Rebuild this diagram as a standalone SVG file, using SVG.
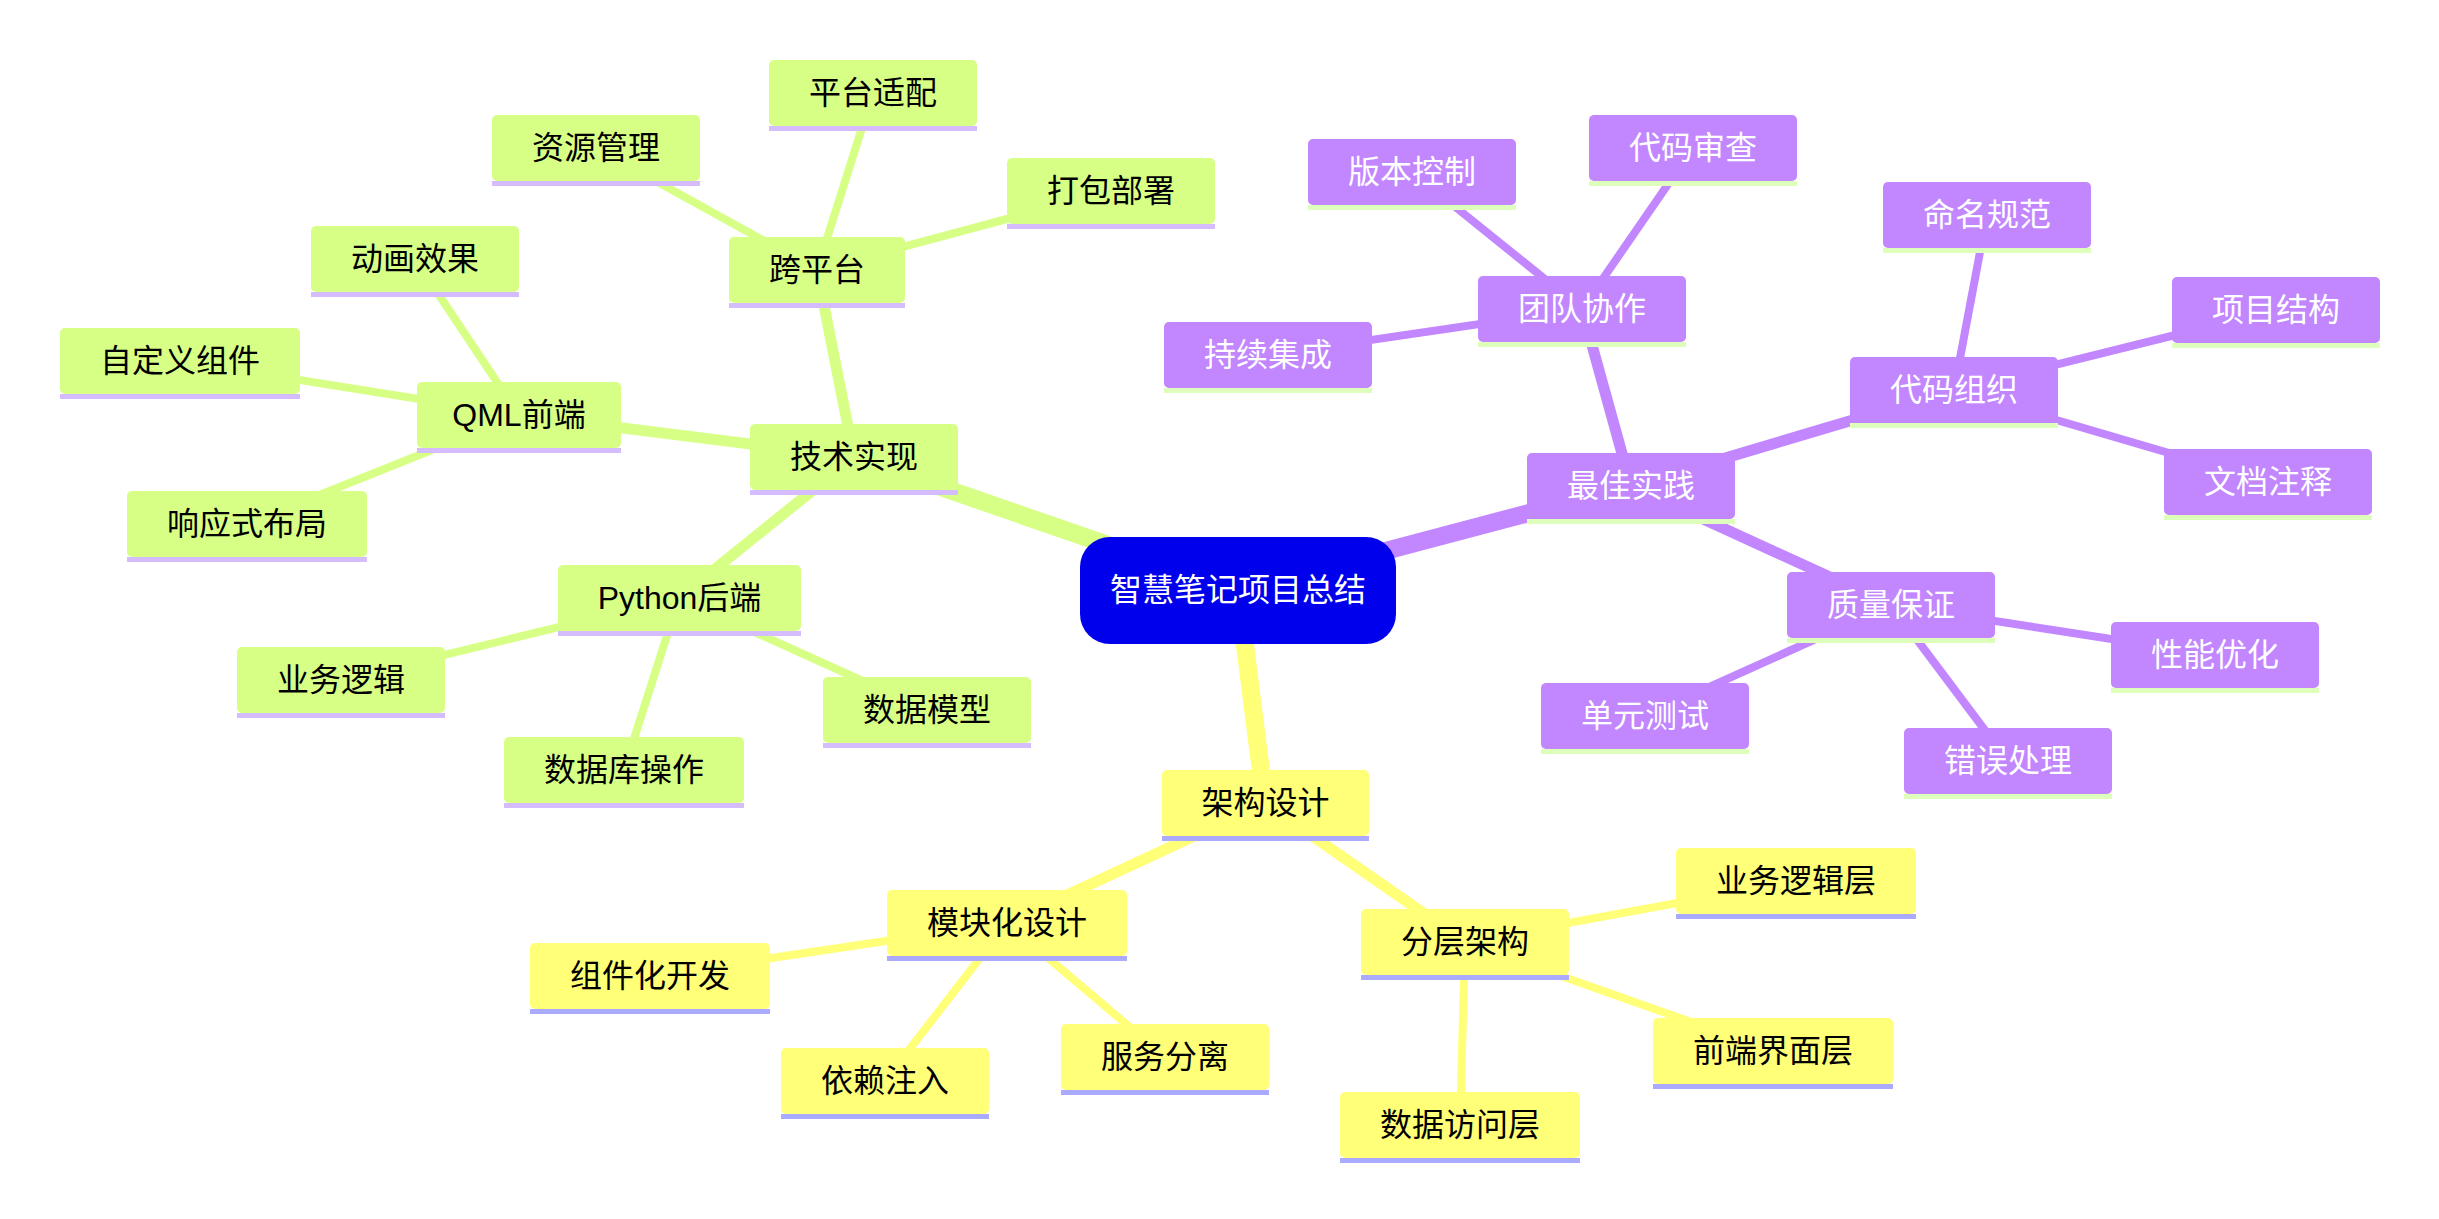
<svg xmlns="http://www.w3.org/2000/svg" width="2439" height="1219" viewBox="0 0 2439 1219">
<style>
text{font-family:"Liberation Sans","Noto Sans CJK SC",sans-serif;font-size:32px;text-anchor:middle}
.g rect.f{fill:#d7ff86}.g rect.u{fill:#d4bcff}.g text{fill:#000}
.p rect.f{fill:#c286ff}.p rect.u{fill:#ddffbb}.p text{fill:#fff}
.y rect.f{fill:#ffff78}.y rect.u{fill:#aaaaff}.y text{fill:#000}
.eg{stroke:#d7ff86}.ep{stroke:#c286ff}.ey{stroke:#ffff78}
.d0{stroke-width:18}.d1{stroke-width:11}.d2{stroke-width:8}
</style>
<rect width="2439" height="1219" fill="#fff"/>
<g id="connectors" fill="none">
<line class="eg d0" x1="1238" y1="590" x2="854" y2="457"/>
<line class="eg d1" x1="854" y1="457" x2="817" y2="270"/>
<line class="eg d1" x1="854" y1="457" x2="519" y2="415"/>
<line class="eg d1" x1="854" y1="457" x2="679" y2="598"/>
<line class="eg d2" x1="817" y1="270" x2="873" y2="93"/>
<line class="eg d2" x1="817" y1="270" x2="596" y2="148"/>
<line class="eg d2" x1="817" y1="270" x2="1111" y2="191"/>
<line class="eg d2" x1="519" y1="415" x2="415" y2="259"/>
<line class="eg d2" x1="519" y1="415" x2="180" y2="361"/>
<line class="eg d2" x1="519" y1="415" x2="247" y2="524"/>
<line class="eg d2" x1="679" y1="598" x2="341" y2="680"/>
<line class="eg d2" x1="679" y1="598" x2="624" y2="770"/>
<line class="eg d2" x1="679" y1="598" x2="927" y2="710"/>
<line class="ep d0" x1="1238" y1="590" x2="1631" y2="486"/>
<line class="ep d1" x1="1631" y1="486" x2="1582" y2="309"/>
<line class="ep d1" x1="1631" y1="486" x2="1954" y2="390"/>
<line class="ep d1" x1="1631" y1="486" x2="1891" y2="605"/>
<line class="ep d2" x1="1582" y1="309" x2="1412" y2="172"/>
<line class="ep d2" x1="1582" y1="309" x2="1693" y2="148"/>
<line class="ep d2" x1="1582" y1="309" x2="1268" y2="355"/>
<line class="ep d2" x1="1954" y1="390" x2="1987" y2="215"/>
<line class="ep d2" x1="1954" y1="390" x2="2276" y2="310"/>
<line class="ep d2" x1="1954" y1="390" x2="2268" y2="482"/>
<line class="ep d2" x1="1891" y1="605" x2="2215" y2="655"/>
<line class="ep d2" x1="1891" y1="605" x2="1645" y2="716"/>
<line class="ep d2" x1="1891" y1="605" x2="2008" y2="761"/>
<line class="ey d0" x1="1238" y1="590" x2="1265" y2="803"/>
<line class="ey d1" x1="1265" y1="803" x2="1007" y2="923"/>
<line class="ey d1" x1="1265" y1="803" x2="1465" y2="942"/>
<line class="ey d2" x1="1007" y1="923" x2="650" y2="976"/>
<line class="ey d2" x1="1007" y1="923" x2="885" y2="1081"/>
<line class="ey d2" x1="1007" y1="923" x2="1165" y2="1057"/>
<line class="ey d2" x1="1465" y1="942" x2="1796" y2="881"/>
<line class="ey d2" x1="1465" y1="942" x2="1773" y2="1051"/>
<line class="ey d2" x1="1465" y1="942" x2="1460" y2="1125"/>
</g>
<g id="root"><rect x="1080" y="537" width="316" height="107" rx="30" fill="#0000ec"/><text x="1238" y="601" fill="#fff">智慧笔记项目总结</text></g>
<g id="n-jishu" class="g"><rect class="f" x="750" y="424" width="208" height="66" rx="5"/><rect class="u" x="750" y="490" width="208" height="5"/><text x="854" y="468">技术实现</text></g>
<g id="n-kuapingtai" class="g"><rect class="f" x="729" y="237" width="176" height="66" rx="5"/><rect class="u" x="729" y="303" width="176" height="5"/><text x="817" y="281">跨平台</text></g>
<g id="n-qml" class="g"><rect class="f" x="417" y="382" width="204" height="66" rx="5"/><rect class="u" x="417" y="448" width="204" height="5"/><text x="519" y="426">QML前端</text></g>
<g id="n-python" class="g"><rect class="f" x="558" y="565" width="243" height="66" rx="5"/><rect class="u" x="558" y="631" width="243" height="5"/><text x="679.5" y="609">Python后端</text></g>
<g id="n-pingtai" class="g"><rect class="f" x="769" y="60" width="208" height="66" rx="5"/><rect class="u" x="769" y="126" width="208" height="5"/><text x="873" y="104">平台适配</text></g>
<g id="n-ziyuan" class="g"><rect class="f" x="492" y="115" width="208" height="66" rx="5"/><rect class="u" x="492" y="181" width="208" height="5"/><text x="596" y="159">资源管理</text></g>
<g id="n-dabao" class="g"><rect class="f" x="1007" y="158" width="208" height="66" rx="5"/><rect class="u" x="1007" y="224" width="208" height="5"/><text x="1111" y="202">打包部署</text></g>
<g id="n-donghua" class="g"><rect class="f" x="311" y="226" width="208" height="66" rx="5"/><rect class="u" x="311" y="292" width="208" height="5"/><text x="415" y="270">动画效果</text></g>
<g id="n-zidingyi" class="g"><rect class="f" x="60" y="328" width="240" height="66" rx="5"/><rect class="u" x="60" y="394" width="240" height="5"/><text x="180" y="372">自定义组件</text></g>
<g id="n-xiangying" class="g"><rect class="f" x="127" y="491" width="240" height="66" rx="5"/><rect class="u" x="127" y="557" width="240" height="5"/><text x="247" y="535">响应式布局</text></g>
<g id="n-yewu" class="g"><rect class="f" x="237" y="647" width="208" height="66" rx="5"/><rect class="u" x="237" y="713" width="208" height="5"/><text x="341" y="691">业务逻辑</text></g>
<g id="n-shujuku" class="g"><rect class="f" x="504" y="737" width="240" height="66" rx="5"/><rect class="u" x="504" y="803" width="240" height="5"/><text x="624" y="781">数据库操作</text></g>
<g id="n-shujumoxing" class="g"><rect class="f" x="823" y="677" width="208" height="66" rx="5"/><rect class="u" x="823" y="743" width="208" height="5"/><text x="927" y="721">数据模型</text></g>
<g id="n-zuijia" class="p"><rect class="f" x="1527" y="453" width="208" height="66" rx="5"/><rect class="u" x="1527" y="519" width="208" height="5"/><text x="1631" y="497">最佳实践</text></g>
<g id="n-tuandui" class="p"><rect class="f" x="1478" y="276" width="208" height="66" rx="5"/><rect class="u" x="1478" y="342" width="208" height="5"/><text x="1582" y="320">团队协作</text></g>
<g id="n-daimazuzhi" class="p"><rect class="f" x="1850" y="357" width="208" height="66" rx="5"/><rect class="u" x="1850" y="423" width="208" height="5"/><text x="1954" y="401">代码组织</text></g>
<g id="n-zhiliang" class="p"><rect class="f" x="1787" y="572" width="208" height="66" rx="5"/><rect class="u" x="1787" y="638" width="208" height="5"/><text x="1891" y="616">质量保证</text></g>
<g id="n-banben" class="p"><rect class="f" x="1308" y="139" width="208" height="66" rx="5"/><rect class="u" x="1308" y="205" width="208" height="5"/><text x="1412" y="183">版本控制</text></g>
<g id="n-shencha" class="p"><rect class="f" x="1589" y="115" width="208" height="66" rx="5"/><rect class="u" x="1589" y="181" width="208" height="5"/><text x="1693" y="159">代码审查</text></g>
<g id="n-chixu" class="p"><rect class="f" x="1164" y="322" width="208" height="66" rx="5"/><rect class="u" x="1164" y="388" width="208" height="5"/><text x="1268" y="366">持续集成</text></g>
<g id="n-mingming" class="p"><rect class="f" x="1883" y="182" width="208" height="66" rx="5"/><rect class="u" x="1883" y="248" width="208" height="5"/><text x="1987" y="226">命名规范</text></g>
<g id="n-xiangmu" class="p"><rect class="f" x="2172" y="277" width="208" height="66" rx="5"/><rect class="u" x="2172" y="343" width="208" height="5"/><text x="2276" y="321">项目结构</text></g>
<g id="n-wendang" class="p"><rect class="f" x="2164" y="449" width="208" height="66" rx="5"/><rect class="u" x="2164" y="515" width="208" height="5"/><text x="2268" y="493">文档注释</text></g>
<g id="n-xingneng" class="p"><rect class="f" x="2111" y="622" width="208" height="66" rx="5"/><rect class="u" x="2111" y="688" width="208" height="5"/><text x="2215" y="666">性能优化</text></g>
<g id="n-danyuan" class="p"><rect class="f" x="1541" y="683" width="208" height="66" rx="5"/><rect class="u" x="1541" y="749" width="208" height="5"/><text x="1645" y="727">单元测试</text></g>
<g id="n-cuowu" class="p"><rect class="f" x="1904" y="728" width="208" height="66" rx="5"/><rect class="u" x="1904" y="794" width="208" height="5"/><text x="2008" y="772">错误处理</text></g>
<g id="n-jiagou" class="y"><rect class="f" x="1162" y="770" width="207" height="66" rx="5"/><rect class="u" x="1162" y="836" width="207" height="5"/><text x="1265.5" y="814">架构设计</text></g>
<g id="n-mokuaihua" class="y"><rect class="f" x="887" y="890" width="240" height="66" rx="5"/><rect class="u" x="887" y="956" width="240" height="5"/><text x="1007" y="934">模块化设计</text></g>
<g id="n-fenceng" class="y"><rect class="f" x="1361" y="909" width="208" height="66" rx="5"/><rect class="u" x="1361" y="975" width="208" height="5"/><text x="1465" y="953">分层架构</text></g>
<g id="n-zujianhua" class="y"><rect class="f" x="530" y="943" width="240" height="66" rx="5"/><rect class="u" x="530" y="1009" width="240" height="5"/><text x="650" y="987">组件化开发</text></g>
<g id="n-yilai" class="y"><rect class="f" x="781" y="1048" width="208" height="66" rx="5"/><rect class="u" x="781" y="1114" width="208" height="5"/><text x="885" y="1092">依赖注入</text></g>
<g id="n-fuwu" class="y"><rect class="f" x="1061" y="1024" width="208" height="66" rx="5"/><rect class="u" x="1061" y="1090" width="208" height="5"/><text x="1165" y="1068">服务分离</text></g>
<g id="n-yewuceng" class="y"><rect class="f" x="1676" y="848" width="240" height="66" rx="5"/><rect class="u" x="1676" y="914" width="240" height="5"/><text x="1796" y="892">业务逻辑层</text></g>
<g id="n-qianduan" class="y"><rect class="f" x="1653" y="1018" width="240" height="66" rx="5"/><rect class="u" x="1653" y="1084" width="240" height="5"/><text x="1773" y="1062">前端界面层</text></g>
<g id="n-shujufangwen" class="y"><rect class="f" x="1340" y="1092" width="240" height="66" rx="5"/><rect class="u" x="1340" y="1158" width="240" height="5"/><text x="1460" y="1136">数据访问层</text></g>
</svg>
